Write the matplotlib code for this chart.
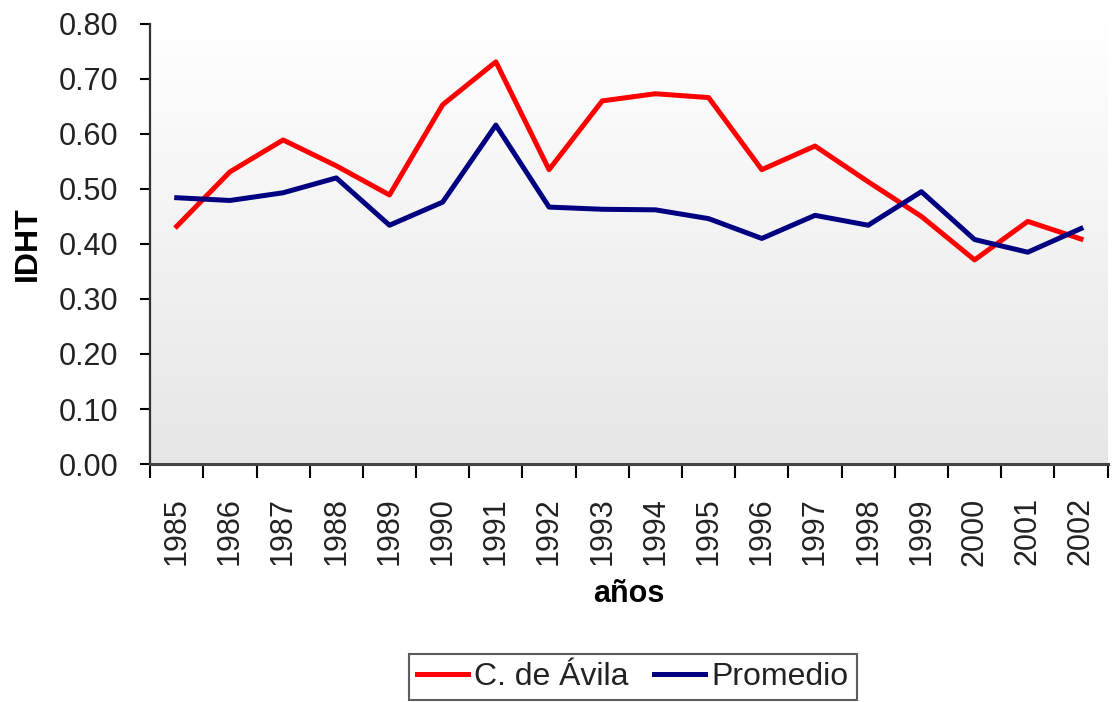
#!/usr/bin/env python3
"""IDHT: C. de Avila vs Promedio, 1985-2002."""

import numpy as np
import matplotlib
matplotlib.use("Agg")
import matplotlib.pyplot as plt

plt.rcParams['font.family'] = ['Liberation Sans', 'DejaVu Sans']

years = ['1985', '1986', '1987', '1988', '1989', '1990', '1991', '1992', '1993',
         '1994', '1995', '1996', '1997', '1998', '1999', '2000', '2001', '2002']
avila = [0.432, 0.531, 0.589, 0.542, 0.489, 0.653, 0.731, 0.535, 0.660,
         0.673, 0.666, 0.535, 0.578, 0.513, 0.450, 0.371, 0.441, 0.409]
promedio = [0.484, 0.479, 0.493, 0.520, 0.434, 0.476, 0.616, 0.467, 0.463,
            0.462, 0.446, 0.410, 0.452, 0.434, 0.495, 0.408, 0.385, 0.428]
yticks = [0.0, 0.1, 0.2, 0.3, 0.4, 0.5, 0.6, 0.7, 0.8]

fig = plt.figure(figsize=(11.12, 7.02), dpi=100)
ax = fig.add_axes([0.135, 0.339, 0.861, 0.627])

x = np.arange(len(years))

# gradient background, white at top -> light grey at bottom
grad = np.linspace(0, 1, 256).reshape(-1, 1)
cmap = matplotlib.colors.LinearSegmentedColormap.from_list('bg', ['#ffffff', '#e6e6e6'])
ax.imshow(grad, cmap=cmap, aspect='auto', extent=[0, 1, 0, 1], origin='upper',
          transform=ax.transAxes, zorder=0)

ax.plot(x, avila, color='#ff0000', linewidth=3.6, label='C. de Ávila', zorder=3)
ax.plot(x, promedio, color='#000080', linewidth=3.6, label='Promedio', zorder=3)

ax.set_xlim(-0.5, len(years) - 0.5)
ax.set_ylim(0, 0.8)
ax.set_yticks(yticks)
ax.set_yticklabels([f'{v:.2f}' for v in yticks], fontsize=22, color='#222222')

# ticks at category boundaries, labels at centres
ax.set_xticks(np.arange(-0.5, len(years)))
ax.set_xticklabels([])
ax.set_xticks(x, minor=True)
ax.set_xticklabels(years, minor=True, rotation=90, fontsize=22, color='#222222')
ax.tick_params(axis='x', which='minor', length=0, pad=24)
ax.tick_params(axis='x', which='major', length=10, width=1.5, direction='out')
ax.tick_params(axis='y', length=7, width=1.5, direction='out', pad=16)

for side in ['top', 'right']:
    ax.spines[side].set_visible(False)
ax.spines['left'].set_linewidth(1.6)
ax.spines['bottom'].set_linewidth(2.2)
ax.spines['left'].set_color('#333333')
ax.spines['bottom'].set_color('#444444')

ax.set_ylabel('IDHT', fontsize=23, fontweight='bold', labelpad=11)
ax.set_xlabel('años', fontsize=22, fontweight='bold', labelpad=10)

leg = fig.legend(loc='center', bbox_to_anchor=(0.569, 0.036),
                 ncol=2, fontsize=23, frameon=True, fancybox=False,
                 edgecolor='#333333', handlelength=1.6, handletextpad=0.2,
                 columnspacing=0.8, borderpad=0.25)
leg.get_frame().set_linewidth(1.5)
for t in leg.get_texts():
    t.set_color('#222222')

plt.savefig('out.png', dpi=100)
